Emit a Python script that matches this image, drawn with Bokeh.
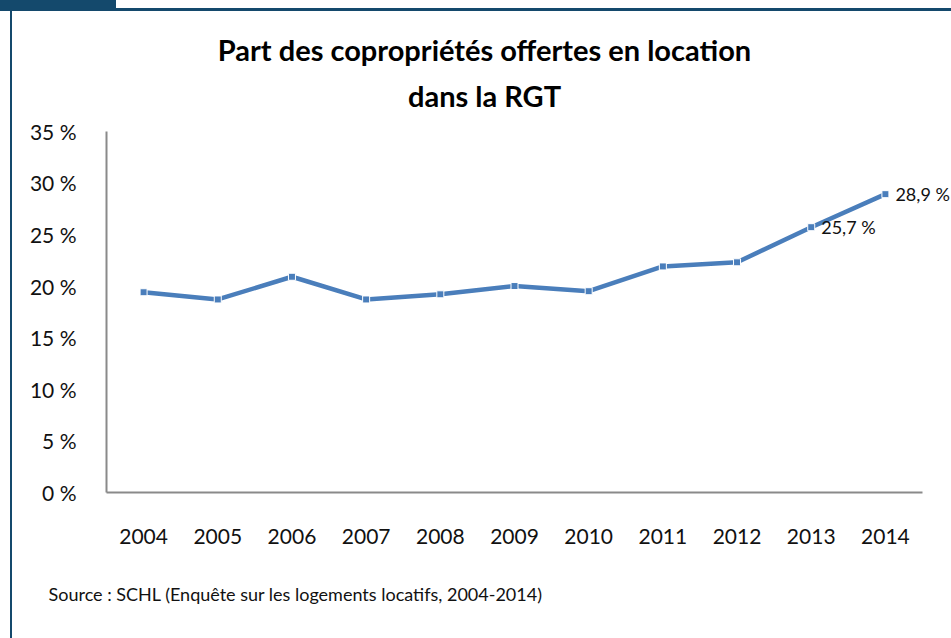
from bokeh.plotting import figure
from bokeh.models import Range1d, FixedTicker, Label, Title, ColumnDataSource
from bokeh.core.properties import value
from bokeh.embed import file_html
from bokeh.resources import INLINE

years = [2004, 2005, 2006, 2007, 2008, 2009, 2010, 2011, 2012, 2013, 2014]
shares = [19.4, 18.7, 20.9, 18.7, 19.2, 20.0, 19.5, 21.9, 22.3, 25.7, 28.9]
labelled_years = [2013, 2014]
labelled_values = [25.7, 28.9]
y_ticks = [0, 5, 10, 15, 20, 25, 30, 35]

title_line1 = "Part des copropriétés offertes en location"
title_line2 = "dans la RGT"
source_text = "Source : SCHL (Enquête sur les logements locatifs, 2004-2014)"

FONT = "Lato"
LINE_COLOR = "#4a7ebb"
NAVY = "#14496c"

W, H = 951, 638
ML, MR, MT, MB = 106, 0, 0, 146
fw = W - ML - MR
fh = H - MT - MB
# axis spans: x from 2003.5 to 2014.5 over 816 px, y from 0 to 35 over 361 px
px_x = 816 / 11
px_y = 361.3 / 35

p = figure(width=W, height=H, output_backend="svg", toolbar_location=None,
           x_range=Range1d(years[0] - 0.5, years[0] - 0.5 + fw / px_x),
           y_range=Range1d(0, fh / px_y),
           min_border_left=ML, min_border_right=MR, min_border_top=MT, min_border_bottom=MB)
p.outline_line_color = None
p.grid.grid_line_color = None
p.background_fill_color = None
p.border_fill_color = None
p.styles = {
    "background": (
        f"linear-gradient({NAVY},{NAVY}) 0 0 / 116px 8px no-repeat, "
        f"linear-gradient({NAVY},{NAVY}) 0 8px / 100% 3px no-repeat, "
        f"linear-gradient({NAVY},{NAVY}) 10px 0 / 2px 100% no-repeat, white"
    )
}

for ax in (p.xaxis[0], p.yaxis[0]):
    ax.axis_line_color = "#8a8a8a"
    ax.axis_line_width = 2
    ax.major_tick_line_color = None
    ax.minor_tick_line_color = None
    ax.major_label_text_font = FONT
    ax.major_label_text_font_size = "21px"
    ax.major_label_text_color = "#111111"

p.xaxis.ticker = FixedTicker(ticks=years)
p.xaxis.major_label_overrides = {y: str(y) for y in years}
p.xaxis.bounds = (years[0] - 0.5, years[-1] + 0.5)
p.xaxis.major_label_standoff = 30

p.yaxis.ticker = FixedTicker(ticks=y_ticks)
p.yaxis.major_label_overrides = {t: f"{t} %" for t in y_ticks}
p.yaxis.bounds = (0, 35)
p.yaxis.major_label_standoff = 24

src = ColumnDataSource(dict(x=years, y=shares))
p.line("x", "y", source=src, line_color=LINE_COLOR, line_width=4.5)
p.scatter("x", "y", source=src, marker="square", size=7, fill_color=LINE_COLOR,
          line_color="white", line_width=1)

lab_src = ColumnDataSource(dict(x=labelled_years, y=labelled_values,
                                t=[f"{v:.1f}".replace(".", ",") + " %" for v in labelled_values]))
p.text("x", "y", text="t", source=lab_src, x_offset=10, text_baseline="middle",
       text_align="left", text_font=value(FONT), text_font_size="18px", text_color="#111111")

p.add_layout(Label(x=484 - ML, y=fh - 49, x_units="screen", y_units="screen", text=title_line1,
                   text_font=FONT, text_font_style="bold", text_font_size="29px",
                   text_align="center", text_baseline="middle", text_color="#000000"))
p.add_layout(Label(x=484 - ML, y=fh - 95, x_units="screen", y_units="screen", text=title_line2,
                   text_font=FONT, text_font_style="bold", text_font_size="29px",
                   text_align="center", text_baseline="middle", text_color="#000000"))

p.add_layout(Title(text=source_text, align="left", offset=48 - ML, standoff=68,
                   text_font=FONT, text_font_style="normal", text_font_size="18px",
                   text_color="#111111"), "below")

open("out.html", "w").write(file_html(p, INLINE))
